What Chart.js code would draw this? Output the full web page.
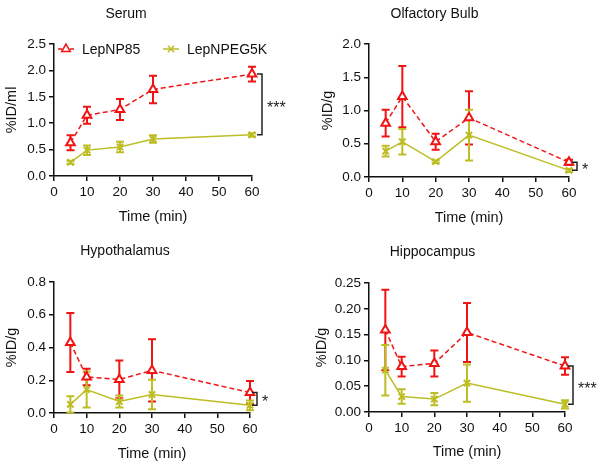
<!DOCTYPE html>
<html>
<head>
<meta charset="utf-8">
<script src="https://cdn.jsdelivr.net/npm/chart.js@4.4.1/dist/chart.umd.min.js"></script>
<style>
  body { margin: 0; background: #fff; }
  #wrap { position: relative; width: 604px; height: 468px; }
  canvas { position: absolute; }
</style>
</head>
<body>
<div id="wrap">
  <canvas id="serum" width="300" height="234" style="left:0;top:0"></canvas>
  <canvas id="bulb" width="304" height="234" style="left:300px;top:0"></canvas>
  <canvas id="hypo" width="300" height="234" style="left:0;top:234px"></canvas>
  <canvas id="hippo" width="304" height="234" style="left:300px;top:234px"></canvas>
</div>
<script>
// Data (mean and error, per time point)
var times = [5, 10, 20, 30, 60];
var seriesNames = ['LepNP85', 'LepNPEG5K'];
var xTicks = [0, 10, 20, 30, 40, 50, 60];

var serumNP85 = [0.63, 1.15, 1.26, 1.64, 1.93];
var serumNP85Err = [0.14, 0.16, 0.20, 0.26, 0.14];
var serumPEG = [0.26, 0.49, 0.55, 0.70, 0.78];
var serumPEGErr = [0.03, 0.09, 0.10, 0.07, 0.03];
var serumTicks = [0, 0.5, 1.0, 1.5, 2.0, 2.5];

var bulbNP85 = [0.81, 1.21, 0.53, 0.89, 0.22];
var bulbNP85Err = [0.20, 0.46, 0.12, 0.40, 0.04];
var bulbPEG = [0.39, 0.53, 0.23, 0.63, 0.10];
var bulbPEGErr = [0.08, 0.19, 0.02, 0.38, 0.02];
var bulbTicks = [0, 0.5, 1.0, 1.5, 2.0];

var hypoNP85 = [0.43, 0.22, 0.205, 0.26, 0.125];
var hypoNP85Err = [0.18, 0.05, 0.115, 0.19, 0.07];
var hypoPEG = [0.053, 0.143, 0.07, 0.113, 0.047];
var hypoPEGErr = [0.05, 0.11, 0.037, 0.09, 0.03];
var hypoTicks = [0, 0.2, 0.4, 0.6, 0.8];

var hippoNP85 = [0.159, 0.088, 0.094, 0.154, 0.089];
var hippoNP85Err = [0.078, 0.019, 0.025, 0.057, 0.017];
var hippoPEG = [0.081, 0.030, 0.025, 0.056, 0.015];
var hippoPEGErr = [0.049, 0.014, 0.012, 0.036, 0.008];
var hippoTicks = [0, 0.05, 0.10, 0.15, 0.20, 0.25];

var RED = '#f01414';
var YEL = '#bdbd24';
var FONT = 'Liberation Sans, Arial, Helvetica, sans-serif';

function toPoints(ys) {
    return times.map(function(t, i) { return { x: t, y: ys[i] }; });
}

function markerOpts(i) {
    return i === 0
        ? { pointStyle: 'triangle', radius: 5, borderWidth: 2, rotation: 0 }
        : { pointStyle: 'crossRot', radius: 4.5, borderWidth: 2, rotation: 0 };
}

// error bars drawn under the markers
var errorBarPlugin = {
    id: 'errorBars',
    beforeDatasetsDraw: function(chart) {
        var ctx = chart.ctx;
        var yScale = chart.scales.y;
        chart.data.datasets.forEach(function(ds, di) {
            var meta = chart.getDatasetMeta(di);
            ctx.save();
            ctx.strokeStyle = ds.borderColor;
            ctx.lineWidth = 2;
            meta.data.forEach(function(pt, i) {
                var m = ds.data[i].y, e = ds.errors[i];
                var yTop = yScale.getPixelForValue(m + e);
                var yBot = yScale.getPixelForValue(Math.max(0, m - e));
                ctx.beginPath();
                ctx.moveTo(pt.x, yTop); ctx.lineTo(pt.x, yBot);
                ctx.moveTo(pt.x - 4, yTop); ctx.lineTo(pt.x + 4, yTop);
                ctx.moveTo(pt.x - 4, yBot); ctx.lineTo(pt.x + 4, yBot);
                ctx.stroke();
            });
            ctx.restore();
        });
    }
};

function makePanel(cfg) {
    var canvas = document.getElementById(cfg.id);
    var W = canvas.width, H = canvas.height;
    var box = cfg.box;

    var plugins = [errorBarPlugin];

    // significance bracket between last points
    plugins.push({
        id: 'bracket',
        afterDatasetsDraw: function(chart) {
            var ctx = chart.ctx;
            var x = chart.scales.x.getPixelForValue(60) + cfg.bracketGap;
            var y1 = chart.scales.y.getPixelForValue(cfg.np85[cfg.np85.length - 1]);
            var y2 = chart.scales.y.getPixelForValue(cfg.peg[cfg.peg.length - 1]);
            ctx.save();
            ctx.strokeStyle = '#222';
            ctx.lineWidth = 1.5;
            ctx.beginPath();
            ctx.moveTo(x - 5, y1); ctx.lineTo(x, y1); ctx.lineTo(x, y2); ctx.lineTo(x - 5, y2);
            ctx.stroke();
            ctx.fillStyle = '#222';
            ctx.font = '16px ' + FONT;
            ctx.textBaseline = 'middle';
            ctx.fillText(cfg.stars, x + 5, (y1 + y2) / 2 + 4);
            ctx.restore();
        }
    });

    if (cfg.legend) {
        plugins.push({
            id: 'insideLegend',
            afterDraw: function(chart) {
                var ctx = chart.ctx;
                var a = chart.chartArea;
                var y = a.top + 5;
                var items = [{ x: a.left + 4, color: RED, dash: [4, 2] }, { x: a.left + 109, color: YEL, dash: [] }];
                ctx.save();
                items.forEach(function(it, i) {
                    ctx.strokeStyle = it.color;
                    ctx.fillStyle = '#fff';
                    ctx.lineWidth = 1.5;
                    ctx.setLineDash(it.dash);
                    ctx.beginPath();
                    ctx.moveTo(it.x, y); ctx.lineTo(it.x + 16, y);
                    ctx.stroke();
                    ctx.setLineDash([]);
                    Chart.helpers.drawPoint(ctx, markerOpts(i), it.x + 8, y);
                    ctx.fillStyle = '#111';
                    ctx.font = '14px ' + FONT;
                    ctx.textBaseline = 'middle';
                    ctx.fillText(seriesNames[i], it.x + 24, y + 1);
                });
                ctx.restore();
            }
        });
    }

    var datasets = [
        { label: seriesNames[0], data: toPoints(cfg.np85), errors: cfg.np85Err, borderColor: RED,
          backgroundColor: '#fff', borderWidth: 1.5, borderDash: [5, 3], pointStyle: 'triangle',
          pointRadius: 5, pointBorderWidth: 2, pointBackgroundColor: '#fff', clip: false },
        { label: seriesNames[1], data: toPoints(cfg.peg), errors: cfg.pegErr, borderColor: YEL,
          backgroundColor: YEL, borderWidth: 1.5, pointStyle: 'crossRot',
          pointRadius: 4.5, pointBorderWidth: 2, clip: false }
    ];

    var axisLine = { display: true, color: '#111', width: 1.5 };
    var tickGrid = { display: true, drawOnChartArea: false, drawTicks: true, tickLength: 5, color: '#111', lineWidth: 1.5 };

    return new Chart(canvas, {
        type: 'line',
        data: { datasets: datasets },
        plugins: plugins,
        options: {
            responsive: false,
            animation: false,
            events: [],
            layout: { padding: { left: 0, right: W - box.right, top: 0, bottom: 0 } },
            plugins: {
                legend: { display: false },
                tooltip: { enabled: false },
                title: {
                    display: true, text: cfg.title, color: '#111',
                    font: { size: 14, family: FONT, weight: 'normal' },
                    padding: { top: cfg.titleY - 8.4, bottom: box.top - (cfg.titleY - 8.4) - 16.8 }
                }
            },
            scales: {
                x: {
                    type: 'linear', min: 0, max: 60,
                    afterBuildTicks: function(s) { s.ticks = xTicks.map(function(v) { return { value: v }; }); },
                    afterFit: function(s) { s.height = H - box.bottom; },
                    border: axisLine, grid: tickGrid,
                    ticks: { color: '#111', font: { size: 13.5, family: FONT }, padding: 3, maxRotation: 0 },
                    title: { display: true, text: 'Time (min)', color: '#111', font: { size: 14.5, family: FONT },
                             padding: { top: 0, bottom: cfg.xTitlePad } }
                },
                y: {
                    type: 'linear', min: 0, max: cfg.yTicks[cfg.yTicks.length - 1],
                    afterBuildTicks: function(s) { s.ticks = cfg.yTicks.map(function(v) { return { value: v }; }); },
                    afterFit: function(s) { s.width = box.left; },
                    border: axisLine, grid: tickGrid,
                    ticks: { color: '#111', font: { size: 13.5, family: FONT }, padding: 3,
                             callback: function(v) { return Number(v).toFixed(cfg.decimals); } },
                    title: { display: true, text: cfg.yLabel, color: '#111', font: { size: 14.5, family: FONT },
                             padding: { top: cfg.yTitlePad, bottom: 0 } }
                }
            }
        }
    });
}

makePanel({ id: 'serum', title: 'Serum', yLabel: '%ID/ml', yTicks: serumTicks, decimals: 1,
    np85: serumNP85, np85Err: serumNP85Err, peg: serumPEG, pegErr: serumPEGErr, stars: '***',
    box: { left: 54, right: 252, top: 44, bottom: 176 }, titleY: 14, xTitlePad: 8, yTitlePad: 3.5,
    bracketGap: 10, legend: true });

makePanel({ id: 'bulb', title: 'Olfactory Bulb', yLabel: '%ID/g', yTicks: bulbTicks, decimals: 1,
    np85: bulbNP85, np85Err: bulbNP85Err, peg: bulbPEG, pegErr: bulbPEGErr, stars: '*',
    box: { left: 69, right: 269, top: 44, bottom: 177 }, titleY: 14, xTitlePad: 7, yTitlePad: 19.5,
    bracketGap: 8, legend: false });

makePanel({ id: 'hypo', title: 'Hypothalamus', yLabel: '%ID/g', yTicks: hypoTicks, decimals: 1,
    np85: hypoNP85, np85Err: hypoNP85Err, peg: hypoPEG, pegErr: hypoPEGErr, stars: '*',
    box: { left: 54, right: 250, top: 48, bottom: 179 }, titleY: 17, xTitlePad: 5, yTitlePad: 3.5,
    bracketGap: 7, legend: false });

makePanel({ id: 'hippo', title: 'Hippocampus', yLabel: '%ID/g', yTicks: hippoTicks, decimals: 2,
    np85: hippoNP85, np85Err: hippoNP85Err, peg: hippoPEG, pegErr: hippoPEGErr, stars: '***',
    box: { left: 69, right: 265, top: 49, bottom: 178 }, titleY: 18, xTitlePad: 7, yTitlePad: 13.5,
    bracketGap: 8, legend: false });
</script>
</body>
</html>
